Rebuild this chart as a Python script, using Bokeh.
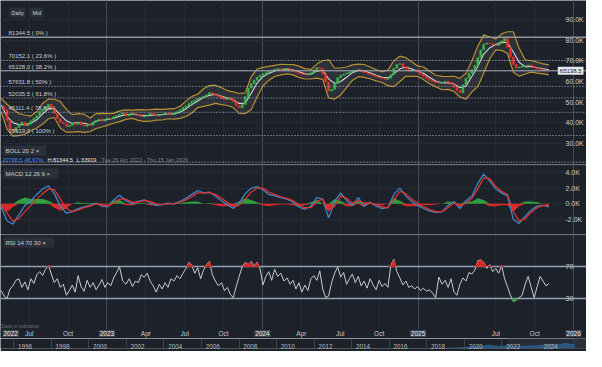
import numpy as np
import pandas as pd
from bokeh.plotting import figure
from bokeh.layouts import column
from bokeh.models import Range1d, FixedTicker, LinearAxis, Label, Span, Grid, BoxAnnotation
from bokeh.embed import file_html
from bokeh.resources import INLINE

# ---------------- data ----------------
start_date = "2022-04-26"          # first session, weekly samples after it
close_k = [48.0, 46.5, 41.0, 37.0, 35.8, 37.8, 39.2, 40.3, 38.6, 39.4,
           41.0, 42.2, 43.4, 45.6, 46.4, 47.8, 49.0, 47.2, 44.5, 42.0,
           40.3, 39.6, 38.2, 38.8, 39.9, 39.3, 40.4, 39.0, 38.4, 39.2,
           38.9, 40.3, 41.2, 41.8, 40.9, 41.6, 42.3, 42.0, 43.0, 43.6,
           44.2, 44.8, 43.4, 44.0, 44.6, 44.1, 43.6, 42.9, 43.2, 43.8,
           44.6, 44.0, 43.4, 44.1, 44.3, 44.8, 44.2, 43.9, 44.7, 45.4,
           46.3, 47.4, 48.2, 49.3, 50.4, 51.0, 51.7, 52.3, 52.8, 53.6,
           54.6, 53.9, 53.2, 52.7, 51.8, 51.3, 52.2, 51.6, 50.2, 48.4,
           47.3, 48.9, 52.6, 56.8, 58.9, 60.6, 62.0, 63.0, 63.7, 64.2,
           64.8, 65.4, 65.9, 66.2, 65.5, 65.8, 66.3, 65.6, 64.9, 64.4,
           63.8, 63.4, 63.1, 63.3, 64.2, 65.6, 66.7, 66.2, 63.5, 59.8,
           55.4, 56.2, 59.0, 61.8, 63.0, 63.6, 64.1, 64.6, 65.1, 65.4,
           65.7, 64.8, 64.3, 64.0, 63.3, 62.8, 62.1, 61.8, 61.4, 61.0,
           61.6, 63.2, 66.4, 68.2, 68.6, 67.2, 65.9, 65.0, 65.3, 65.6,
           64.5, 63.4, 62.4, 61.5, 60.6, 59.9, 59.4, 59.1, 59.6, 60.1,
           59.6, 58.8, 57.2, 55.6, 54.6, 58.4, 61.6, 64.0, 65.8, 67.8,
           71.6, 75.2, 78.0, 78.6, 78.3, 77.6, 77.4, 78.2, 79.6, 80.8,
           76.5, 71.8, 68.2, 66.5, 66.9, 67.3, 67.6, 68.0, 67.4, 66.6,
           66.2, 65.9, 65.6, 65.4, 65.14]

# Bollinger(20, 2) bands, one value every second week
bb_upper_k = [51.8, 49.0, 46.6, 44.5, 43.8, 43.3, 45.5, 49.4, 51.5, 51.4,
              50.3, 46.5, 44.0, 44.5, 44.2, 42.4, 44.5, 44.6, 44.5, 44.6,
              45.8, 46.3, 46.2, 46.4, 46.3, 46.4, 46.6, 46.5, 46.8, 46.8,
              48.0, 50.5, 52.8, 53.8, 56.5, 58.0, 58.2, 57.0, 55.6, 55.0,
              54.2, 54.5, 62.3, 66.0, 66.8, 67.3, 67.8, 68.3, 68.2, 68.1,
              67.4, 66.2, 65.8, 68.4, 70.0, 70.5, 66.5, 66.5, 67.0, 68.0,
              68.4, 68.2, 67.0, 65.8, 64.6, 65.5, 70.0, 72.2, 71.5, 69.5,
              67.5, 67.0, 65.0, 63.0, 62.5, 62.4, 62.5, 61.5, 64.0, 70.0,
              77.0, 82.5, 81.5, 80.5, 83.0, 84.0, 84.0, 76.0, 70.5, 70.0,
              69.3, 68.5, 68.0]
bb_lower_k = [45.5, 37.0, 33.6, 33.8, 34.5, 36.3, 37.5, 39.4, 42.0, 42.6,
              37.5, 35.5, 35.5, 35.8, 35.4, 35.8, 37.3, 38.0, 38.9, 39.8,
              40.6, 41.7, 42.2, 41.2, 40.7, 40.8, 41.3, 41.4, 42.0, 41.8,
              42.2, 43.1, 44.8, 47.4, 48.0, 48.6, 49.4, 48.8, 48.4, 47.4,
              44.6, 44.5, 46.3, 52.5, 57.8, 60.5, 62.4, 63.2, 63.7, 63.2,
              62.0, 61.2, 61.2, 61.6, 61.0, 52.0, 51.5, 53.5, 57.0, 60.5,
              62.3, 62.0, 61.3, 60.3, 59.5, 58.0, 57.5, 60.0, 62.5, 62.5,
              62.4, 61.0, 59.0, 57.5, 56.0, 56.2, 55.2, 52.5, 51.5, 55.0,
              57.5, 64.0, 71.0, 75.3, 75.0, 73.5, 64.5, 62.5, 63.6, 64.5,
              64.0, 63.7, 63.2]

# MACD(12, 26, 9), one value every second week (thousands)
macd_k = [-0.4, -2.2, -2.6, -1.4, -0.2, 0.4, 1.2, 1.9, 2.3, 1.3,
          -0.3, -1.2, -1.0, -0.6, -0.4, -0.2, 0.1, -0.3, -0.4, 0.5,
          1.1, 0.4, 0.0, 0.3, 0.5, 0.1, -0.2, -0.1, 0.1, 0.0,
          0.3, 0.7, 1.2, 1.7, 1.4, 1.5, 1.0, 0.4, -0.1, -0.6,
          0.1, 1.3, 2.0, 2.2, 1.8, 1.2, 1.0, 0.8, 0.6, 0.2,
          -0.4, -0.7, -0.3, 0.8, 0.6, -1.8, 0.3, 1.4, 0.4, -0.2,
          0.8, -0.3, 0.2, -0.3, -0.6, -0.5, 1.2, 2.0, 1.0, 0.3,
          -0.2, -0.6, -0.9, -1.1, -1.0, -0.2, 0.3, -0.6, 0.4, 1.0,
          2.6, 3.8, 2.9, 1.9, 1.4, 1.0, -2.0, -2.5, -1.6, -0.8,
          -0.3, -0.2, -0.4]
signal_k = [-0.2, -1.2, -2.2, -1.9, -1.0, -0.2, 0.6, 1.3, 1.9, 1.8,
            0.6, -0.6, -1.0, -0.8, -0.5, -0.3, 0.0, -0.1, -0.3, 0.1,
            0.6, 0.6, 0.2, 0.2, 0.4, 0.3, 0.0, -0.1, 0.0, 0.0,
            0.2, 0.5, 0.9, 1.4, 1.4, 1.4, 1.2, 0.7, 0.2, -0.3,
            -0.2, 0.6, 1.5, 2.0, 2.0, 1.5, 1.2, 0.9, 0.7, 0.4,
            -0.1, -0.5, -0.5, 0.3, 0.6, -0.8, -0.3, 1.0, 0.7, 0.1,
            0.4, 0.1, 0.1, -0.1, -0.4, -0.5, 0.5, 1.6, 1.3, 0.6,
            0.1, -0.4, -0.7, -1.0, -1.0, -0.5, 0.1, -0.3, 0.1, 0.7,
            1.9, 3.3, 3.2, 2.2, 1.6, 1.2, -1.0, -2.2, -1.9, -1.1,
            -0.5, -0.2, -0.2]

# RSI(14), weekly
rsi = [40, 33, 30, 42, 46, 53, 55, 44, 51, 41,
       55, 49, 60, 64, 59, 67, 72, 61, 50, 55,
       44, 48, 34, 40, 47, 38, 59, 45, 39, 53,
       44, 50, 41, 47, 54, 44, 50, 46, 56, 63,
       70, 52, 48, 55, 45, 52, 50, 60, 57, 62,
       52, 46, 38, 48, 42, 50, 44, 55, 52, 59,
       55, 62, 68, 76, 72, 62, 69, 55, 66, 73,
       77, 60, 52, 46, 50, 40, 44, 35, 31, 45,
       58, 70, 76, 73, 77, 71, 76, 68, 47, 58,
       64, 53, 67, 58, 62, 52, 56, 48, 53, 42,
       50, 38, 47, 40, 55, 59, 53, 65, 42, 31,
       33, 50, 62, 70, 57, 63, 48, 55, 61, 50,
       58, 46, 52, 43, 55, 47, 41, 53, 45, 49,
       44, 72, 80, 64, 56, 47, 52, 44, 46, 42,
       45, 40, 43, 39, 41, 37, 31, 57, 48, 53,
       44, 55, 38, 34, 48, 56, 52, 63, 61, 66,
       78, 79, 76, 68, 73, 64, 68, 62, 72, 55,
       45, 34, 26, 28, 31, 34, 48, 58, 44, 31,
       45, 58, 52, 46, 49]

fib_levels = [81344.5, 70152.1, 65228.0, 57631.8, 52035.5, 45111.4, 33919.0, 21019.3]
fib_pcts = ["0%", "23.6%", "38.2%", "50%", "61.8%", "78.6%", "100%", "127.2%"]
last_price = 65138.5

price_ticks = [30, 40, 50, 60, 70, 80, 90]
price_tick_labels = ["30.0K", "40.0K", "50.0K", "60.0K", "70.0K", "80.0K", "90.0K"]
macd_ticks = [-2, 0, 2, 4]
macd_tick_labels = ["-2.0K", "0.0K", "2.0K", "4.0K"]
rsi_levels = [30, 70]
rsi_tick_labels = ["30", "70"]

x_tick_dates = ["2022-07-01", "2022-10-01", "2023-01-01", "2023-04-01", "2023-07-01",
                "2023-10-01", "2024-01-01", "2024-04-01", "2024-07-01", "2024-10-01",
                "2025-01-01", "2025-07-01", "2025-10-01", "2026-01-01"]
x_tick_labels = ["Jul", "Oct", "2023", "Apr", "Jul", "Oct", "2024", "Apr", "Jul", "Oct",
                 "2025", "Jul", "Oct", "2026"]

nav_label_years = [1996, 1998, 2000, 2002, 2004, 2006, 2008, 2010, 2012, 2014,
                   2016, 2018, 2020, 2022, 2024]
nav_years = [2012.0, 2014.0, 2016.0, 2017.0, 2018.0, 2019.0, 2019.5, 2020.0, 2020.4,
             2020.8, 2021.1, 2021.3, 2021.6, 2022.0, 2022.3, 2022.6, 2023.0, 2023.5,
             2024.0, 2024.5, 2025.0, 2025.4, 2025.6, 2025.87]
nav_level = [0.0, 0.02, 0.04, 0.06, 0.08, 0.12, 0.15, 0.2, 0.28, 0.35, 0.45, 0.55,
             0.42, 0.4, 0.45, 0.34, 0.38, 0.42, 0.5, 0.62, 0.58, 0.8, 0.66, 0.62]

# ---------------- helpers ----------------
FONT = "Liberation Sans"
BG = "#1c212a"
TXT = "#c9cdd3"
GRID = "#262c36"
YEARGRID = "#464d58"
W = 586


def mfloat(d):
    d = pd.Timestamp(d)
    return (d.year - 2022) * 12 + (d.month - 1) + (d.day - 1) / d.days_in_month


def yfrac(d):
    d = pd.Timestamp(d)
    return d.year + (d.dayofyear - 1) / (366 if d.is_leap_year else 365)


dates = pd.date_range(start_date, periods=len(close_k), freq="7D")
xm = np.array([mfloat(d) for d in dates])
xb = xm[::2]
close = np.array(close_k)
open_ = np.concatenate([[close[0]], close[:-1]])
up = close >= open_
xt = [int(round(mfloat(d))) for d in x_tick_dates]
year_ticks = [t for t, l in zip(xt, x_tick_labels) if l.isdigit()]

xr = Range1d(xm[0] - 0.05, 49.0)


def bare_fig(h, xrange, yrange, bg):
    p = figure(width=W, height=h, x_range=xrange, y_range=yrange, output_backend="svg",
               toolbar_location=None, background_fill_color=bg, border_fill_color=bg,
               outline_line_color=None, min_border=0, x_axis_location=None,
               y_axis_location=None)
    p.grid.grid_line_color = None
    return p


def make_fig(h, yr):
    p = bare_fig(h, xr, yr, BG)
    p.add_layout(Grid(dimension=0, ticker=FixedTicker(ticks=xt), grid_line_color=GRID))
    p.add_layout(Grid(dimension=0, ticker=FixedTicker(ticks=year_ticks),
                      grid_line_color=YEARGRID))
    return p


def right_axis(p, ticks, labels):
    ax = LinearAxis(ticker=FixedTicker(ticks=ticks),
                    major_label_overrides={t: l for t, l in zip(ticks, labels)},
                    axis_line_color=None, major_tick_line_color=None,
                    minor_tick_line_color=None, major_label_standoff=-27,
                    major_label_text_color=TXT, major_label_text_font_size="7px",
                    major_label_text_font=FONT)
    p.add_layout(ax, "right")


def tag(p, x, y, text, color=TXT, bg="#2a303a", size="6px", align="left",
        x_units="screen", pad=2):
    p.add_layout(Label(x=x, y=y, x_units=x_units, y_units="screen", text=text,
                       text_color=color, text_font=FONT, text_font_size=size,
                       text_align=align, text_baseline="middle",
                       background_fill_color=bg, padding=pad))


# ---------------- price panel ----------------
pp = make_fig(164, Range1d(19.9, 99.1))
pp.add_layout(Grid(dimension=1, ticker=FixedTicker(ticks=price_ticks), grid_line_color=GRID))
right_axis(pp, price_ticks, price_tick_labels)

for lvl, pct in zip(fib_levels, fib_pcts):
    solid = pct == "0%"
    pp.add_layout(Span(location=lvl / 1000, dimension="width",
                       line_color="#8d949d" if solid else "#b9bec5",
                       line_width=1.5 if solid else 1,
                       line_dash="solid" if solid else "1 2"))
for lvl, pct in list(zip(fib_levels, fib_pcts))[:7]:
    pp.add_layout(Label(x=8, y=lvl / 1000, x_units="screen", y_units="data",
                        text=f"{lvl:.1f} ( {pct} )", text_color=TXT, text_font=FONT,
                        text_font_size="6px", y_offset=1))

pp.varea(x=xb, y1=bb_lower_k, y2=bb_upper_k, fill_color="#4a4d52", fill_alpha=0.35)
pp.line(xb, bb_upper_k, line_color="#b8912f", line_width=1.2)
pp.line(xb, bb_lower_k, line_color="#b8912f", line_width=1.2)
bb_mid = (np.array(bb_upper_k) + np.array(bb_lower_k)) / 2
pp.line(xb, bb_mid, line_color="#d4d6d9", line_width=1.1)
pp.vbar(x=xm, top=np.maximum(open_, close), bottom=np.minimum(open_, close), width=0.15,
        fill_color=np.where(up, "#39b54a", "#e2332b").tolist(),
        line_color=np.where(up, "#39b54a", "#e2332b").tolist(), line_width=0.6)

pp.add_layout(Span(location=last_price / 1000, dimension="width", line_color="#9aa1aa",
                   line_width=1))
pp.add_layout(Label(x=W - 3, y=last_price / 1000, x_units="screen", y_units="data",
                    text=f"{last_price:.1f}", text_align="right", text_baseline="middle",
                    text_color="#1c212a", text_font=FONT, text_font_size="6px",
                    background_fill_color="#e3e6ea", padding=2))

tag(pp, 9, 152, "Daily", size="5.5px")
tag(pp, 30, 152, "Mid", size="5.5px")
tag(pp, 3, 14, "BOLL  20  2  \u00d7")
tag(pp, 2, 5, "20788.5", color="#3d8bf0", bg=None, size="5.5px", pad=0)
tag(pp, 24, 5, "48.67%", color="#3d8bf0", bg=None, size="5.5px", pad=0)
tag(pp, 47, 5, f"H:{max(fib_levels):.1f}", color="#e8eaed", bg=None, size="5.5px", pad=0)
tag(pp, 76, 5, f"L:{min(fib_levels[:7]):.0f}", color="#e8eaed", bg=None, size="5.5px", pad=0)
tag(pp, 101, 5, "Tue 26 Apr 2022 - Thu 15 Jan 2026", color="#7d848e", bg=None,
    size="5.5px", pad=0)

# ---------------- MACD panel ----------------
pm = make_fig(70, Range1d(-3.92, 5.02))
pm.add_layout(Grid(dimension=1, ticker=FixedTicker(ticks=macd_ticks), grid_line_color=GRID))
pm.add_layout(Grid(dimension=1, ticker=FixedTicker(ticks=[5.0]), grid_line_color="#4a515c",
                   grid_line_width=1.5))
right_axis(pm, macd_ticks, macd_tick_labels)
hist = np.array(macd_k) - np.array(signal_k)
zero_b = np.zeros(len(xb))
pm.varea(x=xb, y1=zero_b, y2=np.maximum(hist, 0), fill_color="#2f9e3c")
pm.varea(x=xb, y1=zero_b, y2=np.minimum(hist, 0), fill_color="#d92a2a")
pm.line(xb, macd_k, line_color="#3f86c8", line_width=1.3)
pm.line(xb, signal_k, line_color="#e0332f", line_width=1.3)
tag(pm, 3, 61, "MACD  12  26  9  \u00d7")

# ---------------- RSI panel (with the time-axis row at its foot) ----------------
pr = make_fig(104, Range1d(-20.9, 111.2))
pr.add_layout(Grid(dimension=1, ticker=FixedTicker(ticks=[111.0]), grid_line_color="#4a515c",
                   grid_line_width=1.5))
pr.add_layout(Grid(dimension=1, ticker=FixedTicker(ticks=rsi_levels),
                   grid_line_color="#8ea3b7", grid_line_width=1.6))
right_axis(pr, rsi_levels, rsi_tick_labels)
rs = np.array(rsi, dtype=float)
pr.line(xm, rs, line_color="#c8cbd0", line_width=1.0)
pr.varea(x=xm, y1=np.full(len(rs), 70.0), y2=np.maximum(rs, 70), fill_color="#d42a2a")
pr.varea(x=xm, y1=np.full(len(rs), 30.0), y2=np.minimum(rs, 30), fill_color="#2f9e3c")
tag(pr, 3, 96, "RSI  14  70  30  \u00d7")
pr.add_layout(BoxAnnotation(top=-8.8, fill_color=BG, fill_alpha=1.0, line_color=None))
tag(pr, 1, 13, "Data is indicative", color="#69717c", bg=None, size="5px", pad=0)
for t, l in zip(xt, x_tick_labels):
    if l.isdigit():
        tag(pr, t, 5, l, color="#eceef0", bg="#3a414c", size="6.5px", align="center",
            x_units="data", pad=1)
    else:
        tag(pr, t, 5, l, color=TXT, bg=None, size="6.5px", align="center",
            x_units="data", pad=0)
tag(pr, 2, 5, str(dates[0].year), color="#eceef0", bg="#3a414c", size="6.5px", pad=1)

# ---------------- navigator ----------------
pn = bare_fig(13, Range1d(1995.3, 2026.5), Range1d(0, 1.4), "#1d2128")
sel0, sel1 = yfrac(dates[0]), yfrac(dates[-1])
pn.quad(left=[sel0], right=[sel1], bottom=[0], top=[1.4], fill_color="#252c36", line_color=None)
pn.quad(left=[sel1], right=[2026.5], bottom=[0], top=[1.4], fill_color="#2b2f36",
        line_color="#3d434c")
pn.add_layout(Grid(dimension=0, ticker=FixedTicker(ticks=nav_label_years),
                   grid_line_color="#3d434c"))
pn.varea(x=nav_years, y1=np.zeros(len(nav_years)), y2=nav_level, fill_color="#2c5b86",
         fill_alpha=0.9)
nav_lab_pos = [y + 0.6 for y in nav_label_years]
nax = LinearAxis(ticker=FixedTicker(ticks=nav_lab_pos),
                 major_label_overrides={p: str(y) for p, y in zip(nav_lab_pos, nav_label_years)},
                 axis_line_color=None, major_tick_line_color=None, minor_tick_line_color=None,
                 major_label_standoff=-11, major_label_text_color="#b7bcc3",
                 major_label_text_font_size="6.3px", major_label_text_font=FONT)
pn.add_layout(nax, "below")

layout = column(pp, pm, pr, pn, spacing=0)
html = file_html(layout, INLINE)
html = html.replace("<body>", '<body style="background-color:#1c212a;">', 1)
open("out.html", "w").write(html)
